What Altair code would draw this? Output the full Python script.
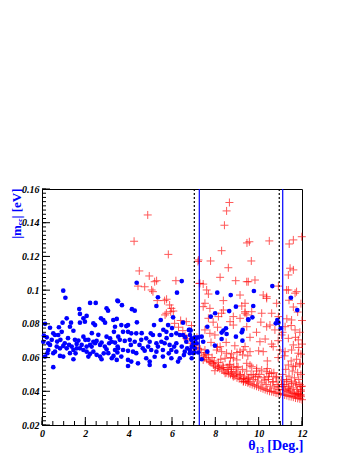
import altair as alt
import pandas as pd

# ---------------- data ----------------
blue_points = [
    (0.98,0.0997),(1.08,0.0955),(2.22,0.0924),(2.48,0.0924),(3.48,0.0938),(1.72,0.0888),(2.98,0.0892),(3.05,0.0878),
    (1.75,0.0859),(2.06,0.0847),(1.14,0.0833),(1.91,0.0833),(1.98,0.0813),(1.75,0.0807),(2.72,0.0833),(2.83,0.0823),
    (2.91,0.0807),(0.14,0.080),(0.37,0.0777),(0.95,0.0807),(1.34,0.0807),(0.78,0.078),(1.29,0.0783),(1.45,0.0759),
    (2.37,0.0803),(2.45,0.0793),(3.29,0.0823),(3.45,0.0829),(3.37,0.0783),(3.32,0.0753),(3.37,0.0689),(3.49,0.0665),
    (0.91,0.0753),(0.75,0.0734),(0.52,0.0744),(0.6,0.0734),(0.09,0.073),(0.22,0.072),(0.06,0.0694),(0.29,0.0685),
    (1.91,0.0724),(2.14,0.0705),(2.22,0.0675),(1.52,0.0705),(1.68,0.0701),(1.6,0.0681),(2.98,0.0724),(3.14,0.0714),
    (3.22,0.0694),(2.37,0.0694),(2.45,0.0685),(2.52,0.0699),(2.68,0.0675),(2.75,0.0689),(2.29,0.0665),(2.06,0.0665),
    (1.83,0.0675),(0.37,0.0675),(0.29,0.0645),(0.25,0.0626),(0.68,0.0665),(0.83,0.0655),(0.98,0.0669),(1.14,0.0655),
    (1.37,0.0665),(0.6,0.0635),(0.52,0.0626),(0.83,0.061),(0.98,0.0606),(1.45,0.0645),(1.6,0.0655),(1.29,0.0626),
    (1.45,0.059),(1.91,0.0645),(2.06,0.0635),(2.22,0.0622),(2.14,0.0606),(2.37,0.0635),(2.52,0.0616),(2.68,0.0606),
    (2.75,0.059),(2.98,0.0649),(3.06,0.0626),(3.22,0.0596),(3.45,0.0586),(0.14,0.0606),(0.52,0.0543),(3.52,0.0724),
    (3.37,0.0645),(3.48,0.063),(0.45,0.0705),(1.2,0.0715),(1.05,0.0685),(2.6,0.0735),(2.9,0.0665),(3.1,0.0685),
    (1.75,0.0655),(2.3,0.0745),(0.7,0.0695),(1.55,0.0625),(2.85,0.0625),(3.3,0.061),(2.0,0.0705),(1.25,0.0675),
    (0.85,0.0705),
    (6.23,0.0985),(5.35,0.0958),(5.28,0.0906),(3.51,0.0934),(3.69,0.0911),(4.15,0.0887),(4.28,0.0878),(6.05,0.0839),
    (5.48,0.0823),(4.38,0.0809),(3.66,0.0793),(3.89,0.0787),(3.97,0.0793),(5.17,0.0793),(5.82,0.0793),(6.51,0.0807),
    (6.78,0.0764),(6.86,0.076),(3.74,0.0753),(3.97,0.0753),(4.12,0.0744),(4.35,0.0744),(5.02,0.0744),(5.12,0.0734),
    (5.43,0.0734),(5.74,0.0753),(5.97,0.0734),(6.2,0.0744),(6.36,0.0734),(6.51,0.0734),(6.61,0.072),(3.59,0.0705),
    (3.82,0.0699),(4.05,0.0705),(4.28,0.0694),(4.58,0.0705),(4.81,0.0714),(4.97,0.0694),(5.28,0.0685),(5.51,0.0694),
    (5.66,0.0685),(5.89,0.0675),(6.2,0.0685),(6.66,0.0694),(6.89,0.0705),(7.08,0.0709),(3.51,0.0655),(3.74,0.0645),
    (3.97,0.064),(4.2,0.0635),(4.35,0.0626),(4.74,0.0641),(5.04,0.0645),(5.28,0.0635),(5.58,0.0645),(5.97,0.0645),
    (6.2,0.0635),(6.59,0.0635),(6.82,0.0626),(7.02,0.0629),(3.66,0.0606),(3.97,0.0586),(4.12,0.0576),(4.81,0.0596),
    (4.97,0.0576),(5.58,0.0606),(5.97,0.0596),(6.36,0.0596),(6.28,0.0576),(3.97,0.055),(4.43,0.0566),(4.97,0.0556),
    (5.66,0.055),(4.37,0.1044),(6.45,0.1054),(4.5,0.0675),(4.65,0.0655),(5.35,0.0665),(5.75,0.0715),(6.1,0.0665),
    (6.45,0.0665),(4.9,0.0665),(5.2,0.0605),(5.85,0.0625),(6.7,0.0655),(4.6,0.0745),(5.6,0.0765),(6.0,0.0775),
    (4.1,0.0675),(6.55,0.0615),
    (8.09,0.0985),(8.71,0.0971),(8.95,0.0902),(8.64,0.0876),(9.52,0.0823),(7.99,0.0863),(7.79,0.0843),(7.63,0.0783),
    (8.49,0.0774),(8.37,0.076),(8.29,0.0748),(9.26,0.0764),(9.22,0.075),(8.52,0.074),(8.95,0.0724),(8.29,0.071),
    (9.25,0.07),(7.98,0.0671),(7.63,0.0635),(6.83,0.0764),(6.83,0.0734),(6.91,0.0714),(7.06,0.072),(7.21,0.072),
    (7.37,0.0724),(7.44,0.0694),(7.14,0.0685),(6.98,0.0685),(6.91,0.0665),(7.06,0.0655),(6.83,0.0645),(7.21,0.063),
    (6.98,0.0626),(7.37,0.059),(6.91,0.0596),
    (10.63,0.1024),(9.78,0.0995),(11.49,0.0955),(11.78,0.0882),(9.75,0.0906),(9.71,0.0839),(9.52,0.0827),
    (10.86,0.0823),(10.79,0.0803),(10.91,0.0807),(11.02,0.0774),
]

red_points = [
    (4.88,0.1446),(4.25,0.129),(5.83,0.1212),(4.49,0.1114),(4.95,0.1084),(5.29,0.1056),(6.18,0.1056),(8.65,0.152),
    (8.52,0.147),(8.42,0.1385),(9.46,0.128),(9.57,0.1287),(10.49,0.1292),(8.29,0.1234),(7.2,0.117),(7.78,0.1173),
    (9.66,0.1173),(8.6,0.1133),(8.22,0.1076),(8.94,0.1056),(9.52,0.105),(9.83,0.106),(7.26,0.104),(11.41,0.1274),
    (11.6,0.1298),(11.99,0.1317),(11.45,0.113),(11.6,0.112),(11.37,0.109),
    (4.43,0.1024),(4.74,0.102),(5.2,0.105),(5.12,0.0991),(5.32,0.0938),(5.66,0.0938),(5.89,0.0912),(5.97,0.0892),
    (5.94,0.0872),(5.74,0.0863),(6.12,0.0803),(6.66,0.0813),(6.66,0.0714),(7.05,0.0675),(6.97,0.0655),(5.06,0.1001),
    (5.75,0.0946),(6.06,0.0876),(5.68,0.0853),
    (7.44,0.1036),(7.6,0.1001),(7.68,0.0977),(8.37,0.0938),(9.14,0.0971),(9.37,0.0872),(9.22,0.0906),(7.52,0.0922),
    (7.44,0.0902),(7.75,0.0892),(8.37,0.0882),(8.29,0.0863),(8.14,0.0843),(7.68,0.0833),(8.83,0.0843),(9.14,0.0833),
    (9.37,0.0863),(8.83,0.0793),(9.45,0.0783),(8.68,0.0813),(7.52,0.0764),(7.75,0.0744),(7.98,0.0734),(8.22,0.0665),
    (8.06,0.0645),(8.29,0.0635),(8.52,0.0626),(8.75,0.0622),(8.83,0.0596),(8.45,0.0596),(8.99,0.0586),(9.14,0.0635),
    (9.29,0.0645),(9.26,0.0616),(7.68,0.0616),(7.44,0.0586),(7.75,0.0576),(7.91,0.0556),(8.14,0.0546),(8.37,0.0542),
    (8.6,0.053),(8.75,0.0516),(8.99,0.0507),(9.14,0.0497),(9.29,0.0477),(9.45,0.0467),(9.52,0.0457),(7.52,0.0645),
    (7.98,0.0522),(8.45,0.0507),(8.83,0.0487),(9.29,0.0457),(8.68,0.0556),(8.99,0.0542),
    (9.45,0.105),(10.21,0.0971),(10.37,0.0951),(11.29,0.1001),(11.68,0.0982),(9.37,0.0922),(9.68,0.0872),
    (9.45,0.0853),(10.14,0.0863),(10.83,0.0922),(10.6,0.0863),(10.91,0.0843),(10.37,0.0783),(10.52,0.0793),
    (10.75,0.0764),(11.06,0.0734),(11.22,0.0783),(11.52,0.0823),(11.68,0.0764),(11.37,0.0714),(11.83,0.0705),
    (11.6,0.0675),(9.37,0.0665),(9.6,0.0635),(10.06,0.0694),(10.21,0.0635),(10.67,0.0665),(10.98,0.0645),
    (11.22,0.0635),(11.52,0.0645),(11.83,0.0626),(11.75,0.059),(11.91,0.0566),(11.6,0.0546),(11.37,0.0556),
    (9.45,0.0566),(9.68,0.0546),(9.91,0.0536),(10.14,0.0526),(10.37,0.0516),(10.6,0.0507),(10.83,0.0487),
    (11.06,0.0467),(11.29,0.0457),(11.52,0.0447),(11.75,0.0438),(11.95,0.0428),(11.95,0.0408),(11.83,0.0388),
    (11.68,0.0378),(11.45,0.0408),(11.14,0.0428),(10.91,0.0428),(10.67,0.0457),(10.29,0.0467),(9.98,0.0487),
    (9.75,0.0497),(9.52,0.0477),(10.45,0.0487),(11.37,0.0418),(11.91,0.0378),(11.95,0.0368),
    (7.22,0.1179),(7.29,0.104),(10.91,0.1024),(11.37,0.1001),(11.75,0.0991),(10.37,0.0961),
    (7.35,0.063),(7.45,0.061),(7.5,0.06),(7.6,0.059),(7.7,0.058),(7.8,0.057),(7.9,0.0565),(8.0,0.055),(7.55,0.062),
    (7.85,0.06),(7.95,0.058),
    (8.1,0.054),(8.2,0.0535),(8.3,0.053),(8.4,0.052),(8.5,0.051),(8.6,0.0505),(8.7,0.05),(8.8,0.0495),(8.9,0.049),
    (9.0,0.048),(8.15,0.057),(8.35,0.0555),(8.55,0.054),(8.75,0.053),(8.95,0.0515),(8.25,0.059),(8.65,0.056),
    (8.85,0.0545),
    (9.1,0.0475),(9.2,0.047),(9.3,0.046),(9.4,0.0455),(9.5,0.045),(9.6,0.0445),(9.7,0.044),(9.8,0.0435),(9.9,0.043),
    (10.0,0.0425),(9.15,0.05),(9.35,0.049),(9.55,0.048),(9.75,0.047),(9.95,0.046),(9.25,0.053),(9.45,0.052),
    (9.65,0.05),(9.85,0.0485),(9.05,0.0545),(9.6,0.0555),(9.9,0.052),
    (10.1,0.042),(10.2,0.0415),(10.3,0.041),(10.4,0.0405),(10.5,0.04),(10.6,0.0398),(10.7,0.0395),(10.8,0.039),
    (10.9,0.0388),(11.0,0.0385),(10.15,0.045),(10.35,0.044),(10.55,0.043),(10.75,0.042),(10.95,0.041),(10.25,0.048),
    (10.45,0.047),(10.65,0.0455),(10.85,0.044),(10.05,0.05),(10.5,0.0505),(10.8,0.048),(11.05,0.044),(10.4,0.0535),
    (10.7,0.051),
    (11.1,0.038),(11.2,0.0378),(11.3,0.0375),(11.4,0.037),(11.5,0.0368),(11.6,0.0365),(11.7,0.036),(11.8,0.0358),
    (11.9,0.0355),(12.0,0.035),(11.15,0.041),(11.25,0.0405),(11.35,0.04),(11.45,0.0395),(11.55,0.039),(11.65,0.0388),
    (11.75,0.0385),(11.85,0.038),(11.95,0.0378),(11.2,0.044),(11.4,0.043),(11.6,0.042),(11.8,0.041),(11.95,0.04),
    (11.3,0.047),(11.5,0.046),(11.7,0.045),(11.9,0.044),(11.1,0.05),(11.4,0.049),(11.65,0.048),(11.85,0.047),
    (12.0,0.043),(11.55,0.052),(11.8,0.051),(11.95,0.05),(11.25,0.053),(11.7,0.055),(11.9,0.056),(11.5,0.058),
    (6.3,0.078),(6.5,0.076),(6.6,0.073),(6.7,0.0705),(6.85,0.0685),(7.0,0.0675),(7.1,0.066),(7.2,0.0655),(7.3,0.065),
    (6.4,0.082),(6.9,0.079),(7.15,0.072),
    (7.9,0.081),(8.1,0.078),(8.5,0.069),(8.9,0.067),(9.6,0.072),(9.9,0.075),(10.1,0.081),(10.3,0.071),(10.6,0.068),
    (10.9,0.07),(11.1,0.075),(11.3,0.083),(11.5,0.079),(11.8,0.087),(12.0,0.082),(11.9,0.075),(11.7,0.072),
    (10.0,0.064),(9.5,0.061),(9.0,0.063),(8.7,0.06),(8.1,0.066),(7.8,0.069),(10.4,0.058),(10.9,0.06),(11.2,0.061),
    (11.95,0.062),(11.85,0.066),(12.0,0.068),(11.6,0.09),(11.4,0.094),(11.95,0.092),
]

dotted_lines = [7.03, 10.95]
solid_lines = [7.26, 11.11]

x_major = [0, 2, 4, 6, 8, 10, 12]
x_minor = [0, 0.5, 1, 1.5, 2, 2.5, 3, 3.5, 4, 4.5, 5, 5.5, 6, 6.5, 7, 7.5, 8, 8.5, 9, 9.5, 10, 10.5, 11, 11.5, 12]
y_major = [0.02, 0.04, 0.06, 0.08, 0.1, 0.12, 0.14, 0.16]
y_minor = [round(0.02 + 0.0025 * i, 4) for i in range(57)]

# ---------------- chart ----------------
W, H = 260, 236
FONT = "Liberation Serif"

blue_df = pd.DataFrame(blue_points, columns=["theta", "mee"])
red_df = pd.DataFrame(red_points, columns=["theta", "mee"])

xscale = alt.Scale(domain=[0, 12], nice=False, zero=False)
yscale = alt.Scale(domain=[0.02, 0.16], nice=False, zero=False)

xaxis = alt.Axis(
    values=x_major, format="d", title="θ₁₃ [Deg.]", grid=False, ticks=False,
    domainColor="black", labelFont=FONT, labelFontStyle="italic", labelFontWeight="bold",
    labelFontSize=10, labelColor="black", labelPadding=3, labelFlush=False,
    titleFont=FONT, titleFontWeight="bold", titleFontSize=14, titleColor="#0000ff",
    titleAlign="right", titleBaseline="alphabetic", titleX=W + 1, titleY=24,
)
yaxis = alt.Axis(
    values=y_major, format=".2~f", title="|mₑₑ| [eV]", grid=False, ticks=False,
    domainColor="black", labelFont=FONT, labelFontStyle="italic", labelFontWeight="bold",
    labelFontSize=10, labelColor="black", labelPadding=3, labelFlush=False,
    titleFont=FONT, titleFontWeight="bold", titleFontSize=13, titleColor="#0000ff",
    titleAngle=270, titleAlign="right", titleBaseline="alphabetic", titleX=-22, titleY=-1,
)

X = alt.X("theta:Q", scale=xscale, axis=xaxis)
Y = alt.Y("mee:Q", scale=yscale, axis=yaxis)

cross_path = "M-1,0L1,0M0,-1L0,1"

red = alt.Chart(red_df).mark_point(
    shape=cross_path, size=64, filled=False, color="#ff0000", strokeWidth=1, opacity=0.65, clip=False
).encode(x=X, y=Y)

blue = alt.Chart(blue_df).mark_circle(size=22, color="#0000ff", opacity=1).encode(x=X, y=Y)

dot_rules = alt.Chart(pd.DataFrame({"theta": dotted_lines})).mark_rule(
    color="black", strokeDash=[2, 2], strokeWidth=1.2
).encode(x=X)
solid_rules = alt.Chart(pd.DataFrame({"theta": solid_lines})).mark_rule(
    color="#0000ff", strokeWidth=1.2
).encode(x=X)

xmaj = alt.Chart(pd.DataFrame({"theta": x_major})).mark_rule(color="black").encode(
    x=X, y=alt.value(H), y2=alt.value(H - 8))
xmin = alt.Chart(pd.DataFrame({"theta": x_minor})).mark_rule(color="black").encode(
    x=X, y=alt.value(H), y2=alt.value(H - 4))
ymaj = alt.Chart(pd.DataFrame({"mee": y_major})).mark_rule(color="black").encode(
    y=Y, x=alt.value(0), x2=alt.value(8))
ymin = alt.Chart(pd.DataFrame({"mee": y_minor})).mark_rule(color="black").encode(
    y=Y, x=alt.value(0), x2=alt.value(4))

chart = alt.layer(red, blue, dot_rules, solid_rules, xmaj, xmin, ymaj, ymin).properties(
    width=W, height=H,
    autosize=alt.AutoSizeParams(type="none"),
    padding={"left": 34, "top": 181, "right": 36, "bottom": 32},
    background="white",
).configure_view(stroke="black", strokeWidth=1)

chart.save("out.html", embed_options={"renderer": "svg", "actions": False})
